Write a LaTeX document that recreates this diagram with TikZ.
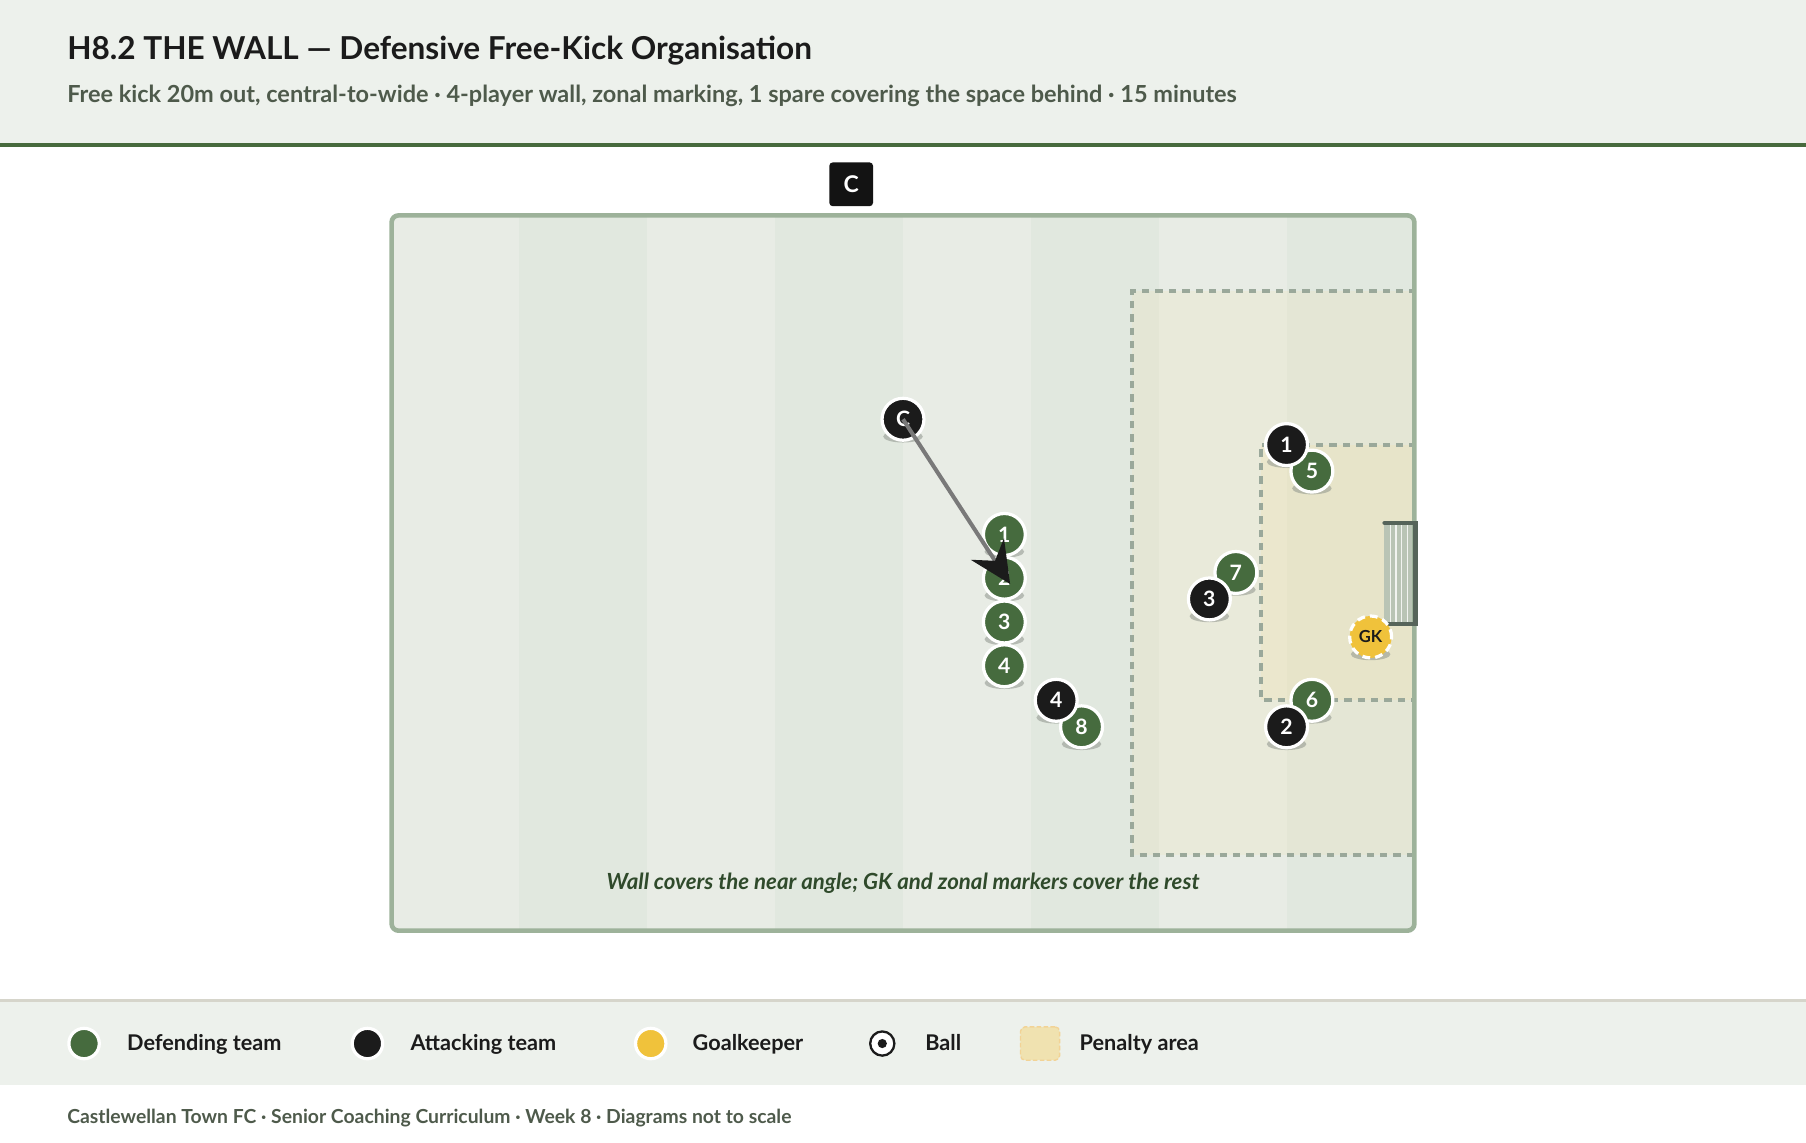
\documentclass[tikz,border=0pt]{standalone}
\usepackage{fontspec}
\setmainfont{Lato}
\usetikzlibrary{calc, positioning, arrows.meta, backgrounds}

\definecolor{hdrbg}{HTML}{EDF1EC}
\definecolor{rulegreen}{HTML}{476A3D}
\definecolor{defgreen}{HTML}{466B3E}
\definecolor{attblack}{HTML}{1B1B1B}
\definecolor{gkyellow}{HTML}{F0C23B}
\definecolor{pitchline}{HTML}{9DB29A}
\definecolor{stripea}{HTML}{E8ECE5}
\definecolor{stripeb}{HTML}{E1E8DF}
\definecolor{boxdash}{HTML}{9AA89A}
\definecolor{beige}{HTML}{F0E2B0}
\definecolor{netgray}{HTML}{B9C4B5}
\definecolor{goalframe}{HTML}{56645A}
\definecolor{subgray}{HTML}{4E5A4B}
\definecolor{capgreen}{HTML}{2F4A2B}
\definecolor{legline}{HTML}{D6D5CB}
\definecolor{shadegray}{HTML}{8E948C}

\pgfdeclarelayer{shade}
\pgfsetlayers{background,shade,main}

\begin{document}
\begin{tikzpicture}[x=0.5pt, y=-0.5pt,
  every node/.style={inner sep=0pt},
  player/.style={circle, draw=white, line width=1.4pt, minimum size=18.2pt,
    text=white, font=\bfseries\fontsize{9.2}{10}\selectfont},
  defender/.style={player, fill=defgreen},
  attacker/.style={player, fill=attblack},
  keeper/.style={player, fill=gkyellow, dash pattern=on 3.4pt off 2.2pt,
    text=attblack, font=\bfseries\fontsize{7.2}{8}\selectfont},
  shadow/.style={fill=shadegray, fill opacity=0.55},
  boxline/.style={draw=boxdash, line width=1.8pt, dash pattern=on 3.2pt off 2.6pt},
  kick/.style={draw=gray!95!black, line width=1.75pt,
    -{Stealth[length=18pt, width=17pt, inset=6pt, color=attblack]}},
  legtext/.style={anchor=base west, text=attblack,
    font=\bfseries\fontsize{9.4}{11}\selectfont}]

  \useasboundingbox (0,0) rectangle (1568,992);

  % header band
  \begin{pgfonlayer}{background}
    \fill[hdrbg] (0,0) rectangle (1568,124);
    \fill[rulegreen] (0,124) rectangle (1568,128);
  \end{pgfonlayer}
  \node[anchor=base west, text=attblack, font=\bfseries\fontsize{13.7}{16}\selectfont]
    (title) at (58,52) {H8.2 THE WALL — Defensive Free-Kick Organisation};
  \node[anchor=base west, text=subgray, font=\bfseries\fontsize{10.2}{12}\selectfont]
    (subtitle) at (58,89) {Free kick 20m out, central-to-wide · 4-player wall, zonal marking, 1 spare covering the space behind · 15 minutes};

  % coach tag above the pitch
  \node[fill=attblack!70!black, rounded corners=1.5pt, minimum size=19pt,
    text=white, font=\bfseries\fontsize{10}{12}\selectfont] (coach) at (739,160) {C};

  % pitch, stripes and boxes
  \begin{pgfonlayer}{background}
    \begin{scope}
      \clip[rounded corners=3pt] (340,187) rectangle (1228,808);
      \foreach \i in {0,...,7} {
        \pgfmathsetmacro{\xa}{340+\i*111}
        \pgfmathtruncatemacro{\odd}{mod(\i,2)}
        \ifnum\odd=0
          \fill[stripea] (\xa,187) rectangle ++(111,621);
        \else
          \fill[stripeb] (\xa,187) rectangle ++(111,621);
        \fi
      }
      \fill[beige, fill opacity=0.2] (983,253) rectangle (1228,742);
      \fill[beige, fill opacity=0.3] (1095,386) rectangle (1228,608);
      \draw[boxline] (1230,253) -- (983,253) -- (983,742) -- (1230,742);
      \draw[boxline] (1230,386) -- (1095,386) -- (1095,608) -- (1230,608);
      % goal net
      \fill[netgray] (1202,454) rectangle (1228,542);
      \foreach \gx in {1207,1212,1217,1222}
        \draw[white!80!netgray, line width=0.6pt] (\gx,456) -- (\gx,540);
    \end{scope}
    \draw[pitchline, line width=2pt, rounded corners=3pt] (340,187) rectangle (1228,808);
    \draw[goalframe, line width=1.8pt, line cap=round] (1202,454) -- (1229,454) -- (1229,542) -- (1202,542);
  \end{pgfonlayer}

  % defending team
  \node[defender] (d1) at (872,464) {1};
  \node[defender] (d2) at (872,502) {2};
  \node[defender] (d3) at (872,540) {3};
  \node[defender] (d4) at (872,578) {4};
  \node[defender] (d8) at (939,631) {8};
  \node[defender] (d5) at (1139,409) {5};
  \node[defender] (d7) at (1073,497) {7};
  \node[defender] (d6) at (1139,608) {6};
  \node[keeper] (gk) at (1190,553) {GK};

  % attacking team
  \node[attacker] (pc) at (784,364) {C};
  \node[attacker] (a4) at (917,608) {4};
  \node[attacker] (a1) at (1117,386) {1};
  \node[attacker] (a3) at (1050,520) {3};
  \node[attacker] (a2) at (1117,631) {2};

  % shadows under every player
  \begin{pgfonlayer}{shade}
    \foreach \p in {d1,d2,d3,d4,d8,d5,d7,d6,gk,pc,a4,a1,a3,a2}
      \fill[shadow] ($(\p)+(0,15)$) ellipse [x radius=8.6pt, y radius=2.6pt];
  \end{pgfonlayer}

  % the kick
  \draw[kick] (pc.center) -- ($(d2.center)+(5,5)$);

  \node[anchor=base, text=capgreen, font=\bfseries\itshape\fontsize{9.65}{11}\selectfont]
    (caption) at (784,772) {Wall covers the near angle; GK and zonal markers cover the rest};

  % legend
  \begin{pgfonlayer}{background}
    \fill[hdrbg] (0,869) rectangle (1568,942);
    \fill[legline] (0,867) rectangle (1568,870);
  \end{pgfonlayer}
  \node[defender, minimum size=13.2pt] (lgdef) at (73,906) {};
  \node[legtext] (lgdeft) at (110,912) {Defending team};
  \node[attacker, minimum size=13.2pt] (lgatt) at (319,906) {};
  \node[legtext] (lgattt) at (356,912) {Attacking team};
  \node[player, fill=gkyellow, minimum size=13.2pt] (lggk) at (565,906) {};
  \node[legtext] (lggkt) at (601,912) {Goalkeeper};
  \node[circle, draw=attblack, fill=white, line width=1pt, minimum size=10.5pt] (lgball) at (766,906) {};
  \fill[attblack] (lgball.center) circle [radius=2pt];
  \node[legtext] (lgballt) at (803,912) {Ball};
  \node[fill=beige, draw=beige!85!orange, dash pattern=on 2pt off 1pt, line width=0.6pt,
    rounded corners=2pt, minimum width=17pt, minimum height=14.5pt] (lgpen) at (903,906) {};
  \node[legtext] (lgpent) at (937,912) {Penalty area};

  % footer
  \node[anchor=base west, text=subgray, font=\bfseries\fontsize{8.4}{10}\selectfont]
    (footer) at (58,975) {Castlewellan Town FC · Senior Coaching Curriculum · Week 8 · Diagrams not to scale};
\end{tikzpicture}
\end{document}
